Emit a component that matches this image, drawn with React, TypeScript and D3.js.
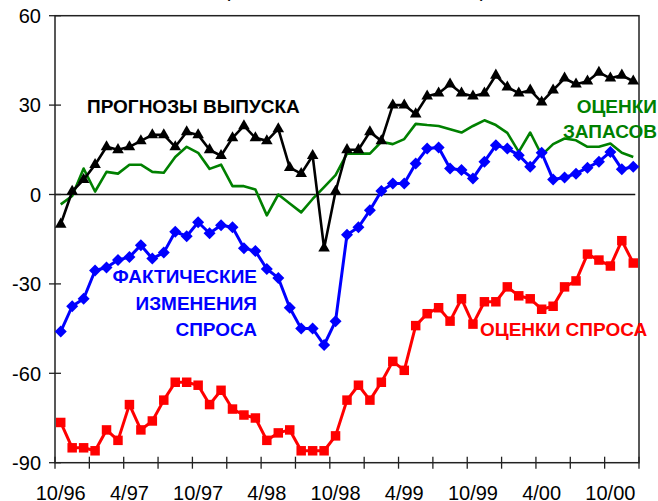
import * as d3 from "d3";

// monthly points, 10/96 .. 12/00
const output = [-10, 1, 5, 10, 16, 15, 16, 18, 20, 20, 16, 21, 20, 15, 13, 19, 23, 19, 18, 22, 9, 7, 13, -18, 1,
  15, 15, 21, 18, 30, 30, 27, 33, 34, 37, 34, 33, 34, 40, 36, 34, 35, 31, 35, 39, 37, 38, 41, 39, 40, 38];
const stocks = [-3.3, -0.5, 8.7, 1, 7.6, 7, 10, 10, 7.6, 7.3, 12.6, 16, 14, 8.6, 10, 2.8, 2.8, 1.7, -7, 0, -3, -6, -1.5, 2.5, 6.5,
  13.7, 13.7, 13.7, 17.7, 16.9, 18.6, 23.7, 23.3, 23, 21.9, 20.8, 23, 24.9, 23.3, 20.7, 14.3, 20.8, 13.2, 16.9, 18.8, 18.2, 16, 16, 17.1, 14, 12.6];
const actualDemand = [-46, -37.5, -35, -25.5, -24.5, -22, -21, -17, -21.5, -19.5, -12.5, -14, -9.3, -13, -10.3, -11, -18, -19, -25, -28, -38, -45, -45, -50.5, -42.5,
  -13.5, -11, -5.3, 1.2, 3.7, 3.7, 10.4, 15.4, 15.8, 8.7, 8.2, 5.4, 11, 16.5, 15.4, 13.2, 9.3, 14, 5, 5.7, 7, 9, 11, 14.3, 8.5, 9.3];
const demandEst = [-76.5, -85, -85, -86, -79, -82.5, -70.5, -79, -76, -69, -63, -63, -64, -70.5, -65.7, -72, -74, -75, -82.5, -80, -79, -86, -86, -86, -81,
  -69, -64, -69, -63, -56, -59, -44, -40, -38, -42.5, -35, -43.5, -36, -36, -31, -34, -35, -38.5, -37.5, -31, -29, -20, -22, -24, -15.5, -23];

const yTicks = [60, 30, 0, -30, -60, -90];
const xLabels = ["10/96", "4/97", "10/97", "4/98", "10/98", "4/99", "10/99", "4/00", "10/00"];
const nMonths = 51;

const W = 658, H = 501;
const font = "'Liberation Sans', Arial, sans-serif";

const App = () => {
  const x = d3.scaleLinear().domain([0, nMonths]).range([55, 639]);
  const y = d3.scaleLinear().domain([-90, 60]).range([462.7, 15.7]);
  const px = (i: number) => x(i + 0.5);

  const line = d3.line<number>().x((d, i) => px(i)).y(d => y(d));
  const tri = d3.symbol().type(d3.symbolTriangle).size(58)() as string;
  const sq = d3.symbol().type(d3.symbolSquare).size(90)() as string;
  const dia = "M0,-6L6,0L0,6L-6,0Z";

  const monthTicks = d3.range(0, nMonths + 1, 3);

  return (
    <svg width={W} height={H} style={{position: "absolute", left: 0, top: 0, background: "#fff"}} fontFamily={font}>
      {/* cut-off title */}
      <text x={227} y={-3} fontSize={20} textAnchor="middle">(</text>
      <text x={483} y={-3} fontSize={20} textAnchor="middle">)</text>

      {/* frame */}
      <rect x={x(0)} y={y(60)} width={x(nMonths) - x(0)} height={y(-90) - y(60)} fill="none" stroke="#222" strokeWidth={1.5}/>
      <line x1={x(0)} x2={px(nMonths - 1) + 2} y1={y(0)} y2={y(0)} stroke="#111" strokeWidth={1.3}/>

      {/* y axis */}
      {yTicks.map(t => (
        <g key={t}>
          <line x1={x(0) - 6} x2={x(0) + 6} y1={y(t)} y2={y(t)} stroke="#222" strokeWidth={1.3}/>
          <text x={41} y={y(t)} dy="0.36em" textAnchor="end" fontSize={20}>{t}</text>
        </g>
      ))}

      {/* x axis */}
      {monthTicks.map(m => (
        <line key={m} x1={x(m)} x2={x(m)} y1={y(-90) - 6} y2={y(-90) + 6} stroke="#222" strokeWidth={1.3}/>
      ))}
      {xLabels.map((l, k) => (
        <text key={l} x={px(k * 6)} y={499.5} textAnchor="middle" fontSize={20}>{l}</text>
      ))}

      {/* series */}
      <path d={line(stocks) || ""} fill="none" stroke="#008000" strokeWidth={2.6} strokeLinejoin="round"/>
      <path d={line(output) || ""} fill="none" stroke="#000" strokeWidth={2.6} strokeLinejoin="round"/>
      {output.map((v, i) => <path key={i} d={tri} transform={`translate(${px(i)},${y(v)})`} fill="#000"/>)}
      <path d={line(actualDemand) || ""} fill="none" stroke="#0000ff" strokeWidth={3} strokeLinejoin="round"/>
      {actualDemand.map((v, i) => <path key={i} d={dia} transform={`translate(${px(i)},${y(v)})`} fill="#0000ff"/>)}
      <path d={line(demandEst) || ""} fill="none" stroke="#ff0000" strokeWidth={3} strokeLinejoin="round"/>
      {demandEst.map((v, i) => <path key={i} d={sq} transform={`translate(${px(i)},${y(v)})`} fill="#ff0000"/>)}

      {/* labels */}
      <g fontWeight="bold" fontSize={19}>
        <text x={87} y={113} fill="#000">ПРОГНОЗЫ ВЫПУСКА</text>
        <text x={657} y={113} fill="#008000" textAnchor="end">ОЦЕНКИ</text>
        <text x={657} y={138} fill="#008000" textAnchor="end">ЗАПАСОВ</text>
        <text x={257} y={283} fill="#0000ff" textAnchor="end">ФАКТИЧЕСКИЕ</text>
        <text x={257} y={310} fill="#0000ff" textAnchor="end">ИЗМЕНЕНИЯ</text>
        <text x={257} y={336} fill="#0000ff" textAnchor="end">СПРОСА</text>
        <text x={480} y={336} fill="#ff0000">ОЦЕНКИ СПРОСА</text>
      </g>
    </svg>
  );
};

export default App;
